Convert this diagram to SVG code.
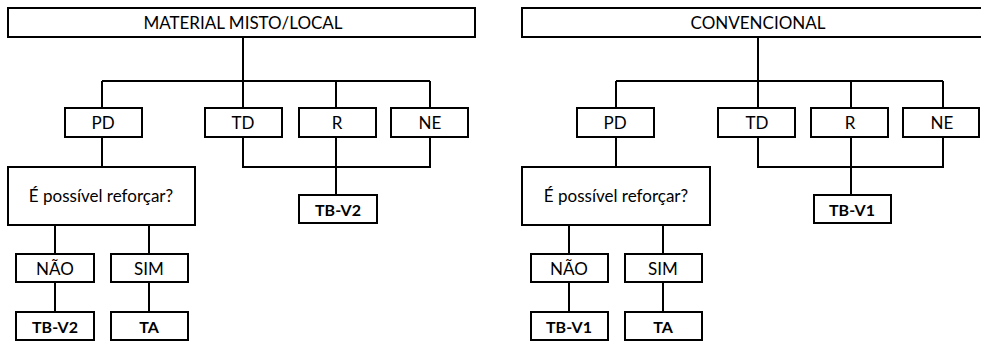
<svg xmlns="http://www.w3.org/2000/svg" width="981" height="343" viewBox="0 0 981 343">
<style>
rect{fill:#fff;stroke:#000;stroke-width:2}
.c path{fill:none;stroke:#000;stroke-width:2}
text{font-family:"Lato","Liberation Sans",sans-serif;font-size:17px;text-anchor:middle;fill:#000}
.b{font-weight:bold;font-size:16px}
.q{font-size:17px}
</style>
<rect x="0" y="0" width="981" height="343" style="stroke:none"/>
<g class="c" id="connectors">
<path d="M243 37V81M102 81H430M102 81V108M243 81V108M336 81V108M430 81V108M102 137V167M243 137V167H430V137M336 137V195M55 225V254M149 225V254M55 282V312M149 282V312"/>
<path d="M758 37V81M616 81H943M616 81V108M758 81V108M851 81V108M943 81V108M616 137V167M758 137V167H943V137M851 137V195M569 225V254M663 225V254M569 282V312M663 282V312"/>
</g>
<g id="l-top"><rect x="8" y="8" width="467" height="29"/><text x="243" y="29">MATERIAL MISTO/LOCAL</text></g>
<g id="l-pd"><rect x="65" y="108" width="77" height="29"/><text x="103" y="129">PD</text></g>
<g id="l-td"><rect x="205" y="108" width="77" height="29"/><text x="243" y="129">TD</text></g>
<g id="l-r"><rect x="299" y="108" width="77" height="29"/><text x="337" y="129">R</text></g>
<g id="l-ne"><rect x="391" y="108" width="77" height="29"/><text x="430" y="129">NE</text></g>
<g id="l-q"><rect x="8" y="167" width="187" height="58"/><text class="q" x="101" y="202">É possível reforçar?</text></g>
<g id="l-tbv2a"><rect x="299" y="195" width="78" height="28"/><text class="b" x="338" y="216">TB-V2</text></g>
<g id="l-nao"><rect x="16" y="254" width="78" height="28"/><text x="55" y="275">NÃO</text></g>
<g id="l-sim"><rect x="111" y="254" width="77" height="28"/><text x="149" y="275">SIM</text></g>
<g id="l-tbv2b"><rect x="16" y="312" width="78" height="28"/><text class="b" x="55" y="333">TB-V2</text></g>
<g id="l-ta"><rect x="111" y="312" width="77" height="28"/><text class="b" x="149" y="333">TA</text></g>

<g id="r-top"><rect x="522" y="8" width="470" height="29"/><text x="758" y="29">CONVENCIONAL</text></g>
<g id="r-pd"><rect x="577" y="108" width="77" height="29"/><text x="615" y="129">PD</text></g>
<g id="r-td"><rect x="718" y="108" width="77" height="29"/><text x="757" y="129">TD</text></g>
<g id="r-r"><rect x="811" y="108" width="77" height="29"/><text x="850" y="129">R</text></g>
<g id="r-ne"><rect x="903" y="108" width="76" height="29"/><text x="942" y="129">NE</text></g>
<g id="r-q"><rect x="522" y="167" width="188" height="58"/><text class="q" x="616" y="202">É possível reforçar?</text></g>
<g id="r-tbv1a"><rect x="814" y="195" width="77" height="28"/><text class="b" x="852" y="216">TB-V1</text></g>
<g id="r-nao"><rect x="531" y="254" width="77" height="28"/><text x="569" y="275">NÃO</text></g>
<g id="r-sim"><rect x="625" y="254" width="77" height="28"/><text x="663" y="275">SIM</text></g>
<g id="r-tbv1b"><rect x="531" y="312" width="77" height="28"/><text class="b" x="569" y="333">TB-V1</text></g>
<g id="r-ta"><rect x="625" y="312" width="77" height="28"/><text class="b" x="663" y="333">TA</text></g>
</svg>
